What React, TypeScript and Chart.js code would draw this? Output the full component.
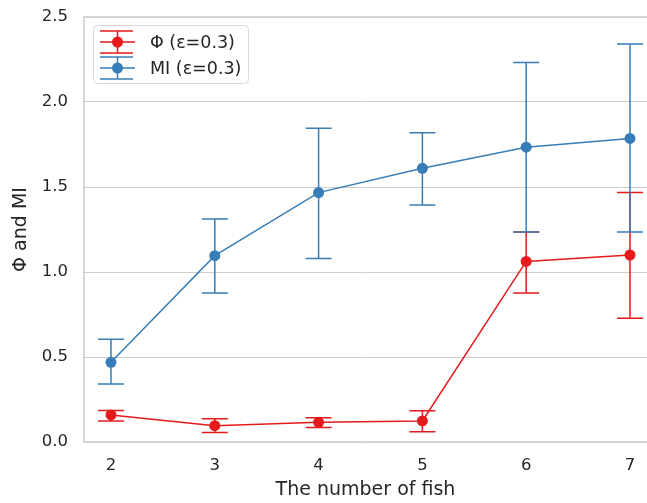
import React, { useEffect, useRef } from "react";
import { Chart, registerables } from "chart.js";

Chart.register(...registerables);

const fishCounts = [2, 3, 4, 5, 6, 7];
const phiValues = [0.159, 0.096, 0.116, 0.124, 1.062, 1.1];
const phiLow = [0.124, 0.056, 0.086, 0.061, 0.876, 0.728];
const phiHigh = [0.185, 0.137, 0.143, 0.184, 1.235, 1.467];
const miValues = [0.469, 1.096, 1.467, 1.61, 1.734, 1.786];
const miLow = [0.341, 0.876, 1.08, 1.394, 1.235, 1.235];
const miHigh = [0.604, 1.312, 1.845, 1.819, 2.233, 2.341];
const seriesLabels = ["Φ (ε=0.3)", "MI (ε=0.3)"];
const yTicks = [0, 0.5, 1.0, 1.5, 2.0, 2.5];

const RED = "#e41a1c";
const BLUE = "#377eb8";
const TEXT = "#262626";
const GRID = "#cccccc";
const FONT = "'DejaVu Sans', sans-serif";

const errorBarPlugin = {
  id: "errorBars",
  beforeDatasetDraw(chart: any, args: any) {
    const ds: any = chart.data.datasets[args.index];
    if (!ds.errLow) return;
    const ctx = chart.ctx;
    const xs = chart.scales.x;
    const ys = chart.scales.y;
    ctx.save();
    ctx.strokeStyle = ds.borderColor;
    ctx.lineWidth = 1.5;
    const cap = 13;
    ds.data.forEach((pt: any, i: number) => {
      const x = xs.getPixelForValue(pt.x);
      const lo = ys.getPixelForValue(ds.errLow[i]);
      const hi = ys.getPixelForValue(ds.errHigh[i]);
      ctx.beginPath();
      ctx.moveTo(x, lo);
      ctx.lineTo(x, hi);
      ctx.moveTo(x - cap, lo);
      ctx.lineTo(x + cap, lo);
      ctx.moveTo(x - cap, hi);
      ctx.lineTo(x + cap, hi);
      ctx.stroke();
    });
    ctx.restore();
  },
};

const framePlugin = {
  id: "frame",
  beforeDatasetsDraw(chart: any) {
    const { left, top, right, bottom } = chart.chartArea;
    const ctx = chart.ctx;
    ctx.save();
    ctx.strokeStyle = GRID;
    ctx.lineWidth = 1.5;
    ctx.beginPath();
    ctx.moveTo(right, top);
    ctx.lineTo(left, top);
    ctx.lineTo(left, bottom);
    ctx.lineTo(right, bottom);
    ctx.stroke();
    ctx.restore();
  },
};

const legendPlugin = {
  id: "customLegend",
  afterDraw(chart: any) {
    const ctx = chart.ctx;
    const { left, top } = chart.chartArea;
    const bx = left + 9;
    const by = top + 8;
    const bw = 155;
    const bh = 58;
    ctx.save();
    ctx.beginPath();
    ctx.roundRect(bx + 0.5, by + 0.5, bw, bh, 4);
    ctx.fillStyle = "rgba(255,255,255,0.8)";
    ctx.fill();
    ctx.strokeStyle = "#d9d9d9";
    ctx.lineWidth = 1;
    ctx.stroke();
    chart.data.datasets.forEach((ds: any, i: number) => {
      const cy = by + 17 + i * 26;
      const x0 = bx + 7;
      const x1 = bx + 42;
      const cx = (x0 + x1) / 2;
      ctx.strokeStyle = ds.borderColor;
      ctx.lineWidth = 1.5;
      ctx.beginPath();
      ctx.moveTo(x0, cy);
      ctx.lineTo(x1, cy);
      ctx.moveTo(cx, cy - 11);
      ctx.lineTo(cx, cy + 11);
      ctx.moveTo(x0, cy - 11);
      ctx.lineTo(x1 - 2, cy - 11);
      ctx.moveTo(x0, cy + 11);
      ctx.lineTo(x1 - 2, cy + 11);
      ctx.stroke();
      ctx.fillStyle = ds.borderColor;
      ctx.beginPath();
      ctx.arc(cx, cy, 5.5, 0, Math.PI * 2);
      ctx.fill();
      ctx.fillStyle = TEXT;
      ctx.font = `17.5px ${FONT}`;
      ctx.textBaseline = "middle";
      ctx.textAlign = "left";
      ctx.fillText(ds.label, bx + 57, cy + 1);
    });
    ctx.restore();
  },
};

export default function App() {
  const ref = useRef<HTMLCanvasElement | null>(null);
  useEffect(() => {
    if (!ref.current) return;
    const chart = new Chart(ref.current, {
      type: "line",
      data: {
        datasets: [
          {
            label: seriesLabels[0],
            data: fishCounts.map((x, i) => ({ x, y: phiValues[i] })),
            errLow: phiLow,
            errHigh: phiHigh,
            borderColor: RED,
            backgroundColor: RED,
            borderWidth: 1.5,
            pointRadius: 5.5,
            pointBorderWidth: 0,
            pointBackgroundColor: RED,
            order: 2,
          } as any,
          {
            label: seriesLabels[1],
            data: fishCounts.map((x, i) => ({ x, y: miValues[i] })),
            errLow: miLow,
            errHigh: miHigh,
            borderColor: BLUE,
            backgroundColor: BLUE,
            borderWidth: 1.5,
            pointRadius: 5.5,
            pointBorderWidth: 0,
            pointBackgroundColor: BLUE,
            order: 1,
          } as any,
        ],
      },
      options: {
        responsive: false,
        animation: false,
        events: [],
        layout: { autoPadding: false, padding: { left: 0, right: 0, top: 17, bottom: 0 } },
        plugins: { legend: { display: false }, tooltip: { enabled: false } },
        scales: {
          x: {
            type: "linear",
            min: 1.74,
            max: 7.164,
            afterBuildTicks: (scale: any) => {
              scale.ticks = fishCounts.map((v) => ({ value: v }));
            },
            afterFit: (scale: any) => {
              scale.height = 61;
              scale.paddingLeft = 0;
              scale.paddingRight = 0;
            },
            grid: { display: false, drawTicks: false },
            border: { display: false },
            ticks: {
              color: TEXT,
              font: { family: FONT, size: 16.5 },
              padding: 14,
              maxRotation: 0,
              callback: (v: any) => String(v),
            },
            title: {
              display: true,
              text: "The number of fish",
              color: TEXT,
              font: { family: FONT, size: 19 },
              padding: { top: 0, bottom: 2 },
            },
          },
          y: {
            type: "linear",
            min: 0,
            max: 2.5,
            afterBuildTicks: (scale: any) => {
              scale.ticks = yTicks.map((v) => ({ value: v }));
            },
            afterFit: (scale: any) => {
              scale.width = 84;
              scale.paddingTop = 0;
              scale.paddingBottom = 0;
            },
            grid: { color: GRID, lineWidth: 1, drawTicks: false },
            border: { display: false },
            ticks: {
              color: TEXT,
              font: { family: FONT, size: 16.5 },
              padding: 16,
              callback: (v: any) => Number(v).toFixed(1),
            },
            title: {
              display: true,
              text: "Φ and MI",
              color: TEXT,
              font: { family: FONT, size: 19 },
              padding: { top: 10, bottom: 0 },
            },
          },
        },
      },
      plugins: [framePlugin, errorBarPlugin, legendPlugin],
    });
    return () => chart.destroy();
  }, []);
  return (
    <div style={{ position: "absolute", left: 0, top: 0, width: 647, height: 503, background: "#fff" }}>
      <canvas ref={ref} width={647} height={503} />
    </div>
  );
}
